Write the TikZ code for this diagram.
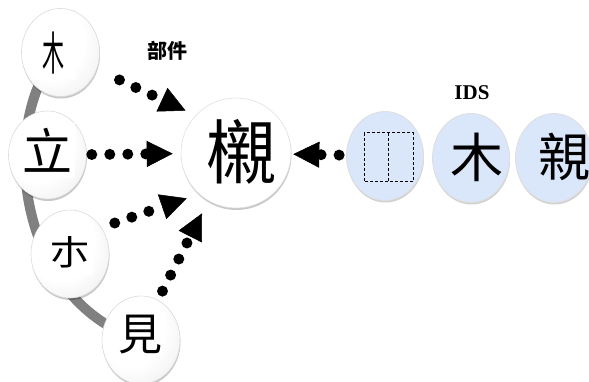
\documentclass[tikz,border=0pt]{standalone}
\usepackage{graphicx}
\usepackage{fontspec}
\setmainfont{Liberation Serif}
\newfontfamily\cjk{Noto Sans CJK TC}
\usetikzlibrary{arrows.meta,shapes.geometric,shadows}
\pgfdeclareradialshading{ballshade}{\pgfpoint{-12bp}{12bp}}{color(0bp)=(white); color(22bp)=(white); color(42bp)=(black!9); color(50bp)=(black!24)}
\pgfdeclareradialshading{bigshade}{\pgfpoint{0bp}{0bp}}{color(0bp)=(white); color(39bp)=(white); color(41bp)=(black!14); color(46bp)=(black!8); color(50bp)=(black!22)}
\definecolor{idsblue}{HTML}{DAE6F9}
\tikzset{
  ball/.style={ellipse, minimum width=78pt, minimum height=88pt, inner sep=0pt,
    shading=ballshade, draw=black!14, line width=0.6pt,
    drop shadow={shadow xshift=0.5pt, shadow yshift=-2pt, opacity=0.22, fill=black}},
  bigball/.style={circle, minimum size=110pt, inner sep=0pt,
    shading=bigshade, draw=black!12, line width=0.6pt,
    drop shadow={shadow xshift=0.5pt, shadow yshift=-2pt, opacity=0.22, fill=black}},
  idsball/.style={ellipse, minimum width=77pt, minimum height=89pt, inner sep=0pt,
    fill=idsblue, draw=black!13, line width=0.8pt,
    drop shadow={shadow xshift=0.5pt, shadow yshift=-2pt, opacity=0.18, fill=black}},
  glyphbox/.style={fill=white, inner sep=0pt},
  glyph/.style={inner sep=0pt},
  dotarrow/.style={line width=11pt, dash pattern=on 0pt off 18pt, line cap=round,
    -{Triangle[length=26pt, width=26pt, line width=0.5pt]}},
  arcline/.style={draw=black!50, line width=10pt}
}
\begin{document}
\begin{tikzpicture}[x=1pt, y=-1pt]
\useasboundingbox (0,0) rectangle (589,382);

% gray arc behind the component circles
\coordinate (arcA) at (60.5,52.5);
\coordinate (arcB) at (141,340);
\draw[arcline] (arcA) .. controls (0,110) and (10,300) .. (arcB);

% component circles
\node[ball] (m1) at (60.5,52.5) {};
\node[ball] (m2) at (47.5,155) {};
\node[ball] (m3) at (70,254) {};
\node[ball] (m4) at (141,340) {};

\node[glyphbox, minimum width=39pt, minimum height=56pt] (b1) at (56.5,51) {};
\node[glyphbox, minimum width=53pt, minimum height=55pt] (b2) at (48,150.5) {};
\node[glyphbox, minimum width=47pt, minimum height=43pt] (b3) at (69.5,253.5) {};
\node[glyphbox, minimum width=38pt, minimum height=44pt] (b4) at (141,335) {};

\node[glyph] (c1) at (54,53.5) {\cjk\fontsize{46}{46}\selectfont\scalebox{0.48}[1]{木}};
\node[glyph] (c2) at (47.5,150.5) {\cjk\fontsize{50}{50}\selectfont 立};
\node[glyph] (c3) at (70,252) {\cjk\fontsize{41}{41}\selectfont\scalebox{1}[0.85]{朩}};
\node[glyph] (c4) at (140,335) {\cjk\fontsize{44}{44}\selectfont 見};

% big character
\node[bigball] (big) at (236,153) {};
\node[glyph] (cbig) at (241,151.5) {\cjk\fontsize{70}{70}\selectfont 櫬};

% IDS circles
\node[idsball] (ids1) at (385,156) {};
\node[idsball] (ids2) at (471,158) {};
\node[idsball] (ids3) at (554,158) {};
\draw[dashed, dash pattern=on 3pt off 2pt, line width=1pt] (364,133) rectangle (413,182);
\draw[dashed, dash pattern=on 3pt off 2pt, line width=1pt] (388,133) -- (388,182);
\node[glyph] (ci2) at (477,157) {\cjk\fontsize{53}{53}\selectfont 木};
\node[glyph] (ci3) at (564,157) {\cjk\fontsize{52}{52}\selectfont 親};

% labels
\node[font={\cjk\bfseries\fontsize{20}{20}\selectfont}] (lblpart) at (167,51) {部件};
\node[font={\bfseries\fontsize{21}{21}\selectfont}] (lblids) at (472,93) {IDS};

% dotted arrows
\draw[dotarrow, shorten <=25pt, shorten >=11pt] (m1) -- (big.137);
\draw[dotarrow, shorten <=5pt, shorten >=8pt] (m2) -- (big);
\draw[dotarrow, shorten <=14pt, shorten >=13pt] (m3.40) -- (big.228);
\draw[dotarrow, shorten <=10pt, shorten >=14pt] (m4.67) -- (big.240);
\draw[dotarrow, shorten <=7pt, shorten >=2pt] (ids1) -- (big);
\end{tikzpicture}
\end{document}
